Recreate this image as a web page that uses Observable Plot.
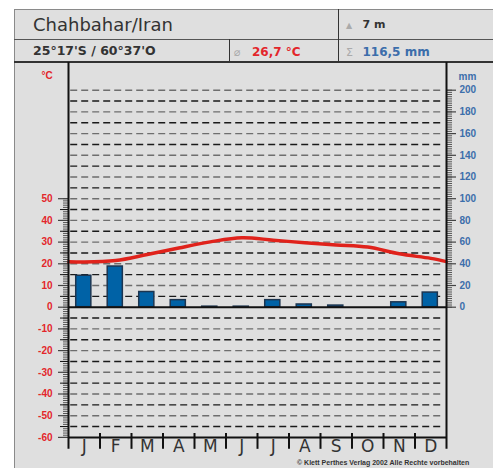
<!DOCTYPE html>
<html><head><meta charset="utf-8">
<script src="https://cdn.jsdelivr.net/npm/d3@7"></script>
<script src="https://cdn.jsdelivr.net/npm/@observablehq/plot@0.6"></script>
<style>
html,body{margin:0;padding:0;background:#fff;}
body{width:493px;height:468px;overflow:hidden;position:relative;font-family:"DejaVu Sans",sans-serif;}
#box{position:absolute;left:14px;top:9px;width:500px;height:470px;background:#dfdfdf;border-left:1px solid #8a8a8a;border-top:1px solid #8a8a8a;box-sizing:border-box;}
.ln{position:absolute;background:#333;}
.t{position:absolute;white-space:nowrap;line-height:1;}
#chart{position:absolute;left:14px;top:62px;}
</style></head><body>
<div id="box"></div>
<div class="ln" style="left:14px;top:38.5px;width:480px;height:1px;background:#555"></div>
<div class="ln" style="left:14px;top:61px;width:480px;height:1.5px"></div>
<div class="ln" style="left:337.5px;top:9px;width:1.5px;height:53px"></div>
<div class="ln" style="left:228.5px;top:39px;width:1.5px;height:23px"></div>
<div class="t" style="left:33px;top:15.5px;font-size:18px;color:#333;">Chahbahar/Iran</div>
<div class="t" style="left:346px;top:21.5px;font-size:8px;color:#aaa;">▲</div>
<div class="t" style="left:362.5px;top:19px;font-size:11px;font-weight:bold;color:#333;">7 m</div>
<div class="t" style="left:33px;top:45.4px;font-size:12.5px;font-weight:bold;color:#333;">25°17'S / 60°37'O</div>
<div class="t" style="left:234px;top:46.5px;font-size:11px;color:#aaa;">⌀</div>
<div class="t" style="left:252px;top:45.8px;font-size:12px;font-weight:bold;color:#e3262b;">26,7 °C</div>
<div class="t" style="left:346px;top:46.5px;font-size:11px;color:#aaa;">Σ</div>
<div class="t" style="left:362.5px;top:45.8px;font-size:12px;font-weight:bold;color:#3c6eab;">116,5 mm</div>
<div class="t" style="left:41.5px;top:71px;font-size:10px;font-weight:bold;color:#e3262b;font-family:'Liberation Sans';">°C</div>
<div class="t" style="left:458.5px;top:71.5px;font-size:10px;font-weight:bold;color:#3c6eab;font-family:'Liberation Sans';">mm</div>
<div id="chart"></div>
<div class="t" style="left:297px;top:458.6px;font-size:7px;font-weight:bold;color:#333;font-family:'Liberation Sans';">© Klett Perthes Verlag 2002 Alle Rechte vorbehalten</div>
<script>
const months = ["J","F","M","A","M","J","J","A","S","O","N","D"];
const temperature = [20.8, 21.5, 24.3, 27.3, 30.1, 32.0, 30.9, 29.7, 28.7, 27.7, 24.6, 22.5];
const precipitation = [29, 37.5, 14, 6.5, 0.5, 0.5, 6.5, 2.5, 1.5, 0, 4.5, 13.5];
const tempAtEdges = [21.0, 21.0]; // curve value read at the left / right frame edge
const celsiusTicks = d3.range(-60, 51, 10);
const mmTicks = d3.range(0, 201, 20);
const gridLevels = d3.range(-55, 101, 5).filter(v => v !== 0);

const RED = "#e3262b", BLUE = "#3c6eab";
const tempPts = [
  {x: 0, t: tempAtEdges[0]},
  ...temperature.map((t, i) => ({x: i + 0.5, t})),
  {x: 12, t: tempAtEdges[1]}
];
const bars = precipitation.map((p, i) => ({i, p}));

const tickOnly = (anchor, ticks, tickSize, stroke, strokeWidth) =>
  Plot.axisY({anchor, ticks, tickSize, stroke, strokeWidth, fill: "none", label: null, tickFormat: () => ""});
const textOnly = (anchor, ticks, tickPadding, fill, tickFormat) =>
  Plot.axisY({anchor, ticks, tickSize: 0, tickPadding, fill, tickFormat, label: null, fontWeight: "bold", fontSize: 10, fontFamily: "Liberation Sans"});

const plot = Plot.plot({
  width: 479, height: 406,
  marginLeft: 54, marginRight: 47, marginTop: 27.7, marginBottom: 31.1,
  x: {type: "linear", domain: [0, 12], axis: null},
  y: {domain: [-60, 100]},
  style: {background: "transparent"},
  marks: [
    Plot.ruleY(gridLevels, {x1: 0.07, x2: 11.93, stroke: d => d % 10 === 0 ? "#6e6e6e" : "#1a1a1a", strokeWidth: 1.4, strokeDasharray: "7,4"}),
    Plot.rectY(bars, {x1: d => d.i + 0.245, x2: d => d.i + 0.725, y1: 0, y2: d => d.p / 2, fill: "#0062a6", stroke: "#1c3550", strokeWidth: 1.5}),
    Plot.ruleY([0, -60], {x1: 0, x2: 12, stroke: "#111", strokeWidth: 2}),
    Plot.line(tempPts, {x: "x", y: "t", curve: "catmull-rom", stroke: "#e0221b", strokeWidth: 3.5}),
    // left (°C) axis
    tickOnly("left", d3.range(-60, 51, 1), 5, "#555", 1),
    tickOnly("left", d3.range(-55, 50, 10), 8, "#111", 1),
    tickOnly("left", celsiusTicks, 10, "#444", 1.2),
    textOnly("left", celsiusTicks, 16, RED, d => String(d)),
    // right (mm) axis, 20 mm = 10 °C
    tickOnly("right", d3.range(0, 101, 1), 5, "#555", 1),
    tickOnly("right", mmTicks.map(m => m / 2), 9, "#444", 1.2),
    textOnly("right", mmTicks.map(m => m / 2), 13, BLUE, d => String(d * 2)),
    // frame verticals and month separators
    Plot.ruleX([0, 12], {y1: -65.5, y2: 112.8, stroke: "#111", strokeWidth: 2}),
    Plot.ruleX(months.slice(1).map((_, i) => i + 1), {y1: -58.2, y2: -65.5, stroke: "#111", strokeWidth: 2}),
    Plot.text(months, {x: (d, i) => i + 0.5, y: -64.2, text: d => d, fontSize: 17, fill: "#333", fontFamily: "DejaVu Sans"})
  ]
});
document.getElementById("chart").appendChild(plot);
</script>
</body></html>
